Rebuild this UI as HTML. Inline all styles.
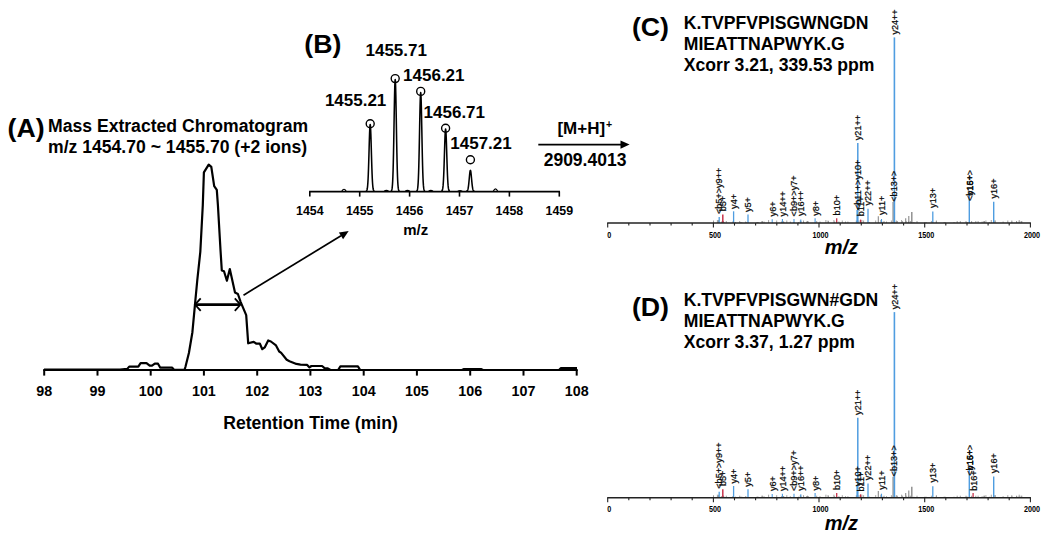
<!DOCTYPE html>
<html><head><meta charset="utf-8"><style>
html,body{margin:0;padding:0;background:#fff;width:1050px;height:546px;overflow:hidden}
svg{display:block}
text{font-family:"Liberation Sans",sans-serif;fill:#000}
</style></head><body>
<svg width="1050" height="546" viewBox="0 0 1050 546">
<rect width="1050" height="546" fill="#fff"/>
<text x="7.5" y="136.5" font-size="26.7" font-weight="bold" text-anchor="start" >(A)</text>
<text x="48" y="132" font-size="17.6" font-weight="bold" text-anchor="start" >Mass Extracted Chromatogram</text>
<text x="48" y="153" font-size="17.6" font-weight="bold" text-anchor="start" >m/z 1454.70 ~ 1455.70 (+2 ions)</text>
<line x1="43.2" y1="370" x2="577.7" y2="370" stroke="#000" stroke-width="2.2"/>
<line x1="44.2" y1="370" x2="44.2" y2="375.6" stroke="#000" stroke-width="2"/>
<text x="44.2" y="395.5" font-size="14.3" font-weight="bold" text-anchor="middle" >98</text>
<line x1="97.5" y1="370" x2="97.5" y2="375.6" stroke="#000" stroke-width="2"/>
<text x="97.5" y="395.5" font-size="14.3" font-weight="bold" text-anchor="middle" >99</text>
<line x1="150.7" y1="370" x2="150.7" y2="375.6" stroke="#000" stroke-width="2"/>
<text x="150.7" y="395.5" font-size="14.3" font-weight="bold" text-anchor="middle" >100</text>
<line x1="203.9" y1="370" x2="203.9" y2="375.6" stroke="#000" stroke-width="2"/>
<text x="203.9" y="395.5" font-size="14.3" font-weight="bold" text-anchor="middle" >101</text>
<line x1="257.2" y1="370" x2="257.2" y2="375.6" stroke="#000" stroke-width="2"/>
<text x="257.2" y="395.5" font-size="14.3" font-weight="bold" text-anchor="middle" >102</text>
<line x1="310.4" y1="370" x2="310.4" y2="375.6" stroke="#000" stroke-width="2"/>
<text x="310.4" y="395.5" font-size="14.3" font-weight="bold" text-anchor="middle" >103</text>
<line x1="363.7" y1="370" x2="363.7" y2="375.6" stroke="#000" stroke-width="2"/>
<text x="363.7" y="395.5" font-size="14.3" font-weight="bold" text-anchor="middle" >104</text>
<line x1="416.9" y1="370" x2="416.9" y2="375.6" stroke="#000" stroke-width="2"/>
<text x="416.9" y="395.5" font-size="14.3" font-weight="bold" text-anchor="middle" >105</text>
<line x1="470.2" y1="370" x2="470.2" y2="375.6" stroke="#000" stroke-width="2"/>
<text x="470.2" y="395.5" font-size="14.3" font-weight="bold" text-anchor="middle" >106</text>
<line x1="523.5" y1="370" x2="523.5" y2="375.6" stroke="#000" stroke-width="2"/>
<text x="523.5" y="395.5" font-size="14.3" font-weight="bold" text-anchor="middle" >107</text>
<line x1="576.7" y1="370" x2="576.7" y2="375.6" stroke="#000" stroke-width="2"/>
<text x="576.7" y="395.5" font-size="14.3" font-weight="bold" text-anchor="middle" >108</text>
<text x="310.5" y="428.8" font-size="17.6" font-weight="bold" text-anchor="middle" >Retention Time (min)</text>
<polyline fill="none" stroke="#000" stroke-width="2.2" stroke-linejoin="round" points="44,369.5 120,369.5 127.3,368.9 129.2,366.6 138.3,366.6 140.6,363.1 146.5,363.1 149.7,365.7 152,365.7 154.8,363.7 158,363.7 160.3,367.7 172.2,367.7 174,369.8 184.5,369.8 185.4,367 188.9,353 192.4,332.2 195,304.3 197.3,280 200.3,252 202.8,205 203.9,172.4 208.7,164.6 211.3,166.9 214.2,186.1 216.8,189.8 217.9,205 220.5,250 221.8,270.5 224,271.2 226.9,280.8 229.8,269 235,292.5 237.9,294 240.7,302.1 246.2,315.1 248.2,343.3 253.7,341.9 256.5,343.7 259.9,343.7 262.3,349.2 264.7,347.4 268.2,340.5 270.9,341.5 276,345.4 279.2,351.5 281.2,352.9 286.7,359.8 289.5,361.2 296.4,363.9 300.5,364.6 307.2,364.9 309.5,367.4 311.4,366 322.1,366 324.8,368.3 327.4,368.3 330.5,370 338.1,370 340.4,366.4 357.9,366.4 360.2,370 462,370 464,369 481,369 483,370 559,370 561,368 577,368"/>
<line x1="195.5" y1="304.6" x2="240" y2="304.6" stroke="#000" stroke-width="2.6"/>
<polyline fill="none" stroke="#000" stroke-width="1.8" points="200.7,298.3 195,304.6 200.7,310.9"/>
<polyline fill="none" stroke="#000" stroke-width="1.8" points="234.8,298.3 240.5,304.6 234.8,310.9"/>
<line x1="243.5" y1="295.2" x2="341.0" y2="235.8" stroke="#000" stroke-width="1.7"/>
<polygon fill="#000" points="348.7,231.1 343.1,239.2 338.9,232.4"/>
<text x="304.3" y="53.4" font-size="26.7" font-weight="bold" text-anchor="start" >(B)</text>
<line x1="309.1" y1="191.6" x2="560.0" y2="191.6" stroke="#000" stroke-width="1.6"/>
<line x1="309.8" y1="191.6" x2="309.8" y2="196.6" stroke="#000" stroke-width="1.6"/>
<text x="309.8" y="214.8" font-size="12.4" font-weight="bold" text-anchor="middle" >1454</text>
<line x1="359.7" y1="191.6" x2="359.7" y2="196.6" stroke="#000" stroke-width="1.6"/>
<text x="359.7" y="214.8" font-size="12.4" font-weight="bold" text-anchor="middle" >1455</text>
<line x1="409.6" y1="191.6" x2="409.6" y2="196.6" stroke="#000" stroke-width="1.6"/>
<text x="409.6" y="214.8" font-size="12.4" font-weight="bold" text-anchor="middle" >1456</text>
<line x1="459.5" y1="191.6" x2="459.5" y2="196.6" stroke="#000" stroke-width="1.6"/>
<text x="459.5" y="214.8" font-size="12.4" font-weight="bold" text-anchor="middle" >1457</text>
<line x1="509.4" y1="191.6" x2="509.4" y2="196.6" stroke="#000" stroke-width="1.6"/>
<text x="509.4" y="214.8" font-size="12.4" font-weight="bold" text-anchor="middle" >1458</text>
<line x1="559.3" y1="191.6" x2="559.3" y2="196.6" stroke="#000" stroke-width="1.6"/>
<text x="559.3" y="214.8" font-size="12.4" font-weight="bold" text-anchor="middle" >1459</text>
<text x="415.8" y="234.8" font-size="15" font-weight="bold" text-anchor="middle" >m/z</text>
<polyline fill="none" stroke="#000" stroke-width="1.55" stroke-linejoin="round" points="366.00,191.22 366.21,191.14 366.42,191.00 366.63,190.76 366.84,190.36 367.05,189.73 367.26,188.76 367.47,187.31 367.68,185.25 367.89,182.42 368.10,178.69 368.31,173.99 368.52,168.32 368.73,161.79 368.94,154.65 369.15,147.27 369.36,140.14 369.57,133.81 369.78,128.81 369.99,125.60 370.20,124.50 370.41,125.60 370.62,128.81 370.83,133.81 371.04,140.14 371.25,147.27 371.46,154.65 371.67,161.79 371.88,168.32 372.09,173.99 372.30,178.69 372.51,182.42 372.72,185.25 372.93,187.31 373.14,188.76 373.35,189.73 373.56,190.36 373.77,190.76 373.98,191.00 374.19,191.14 374.40,191.22"/>
<circle cx="370.2" cy="123.8" r="4" fill="none" stroke="#000" stroke-width="1.4"/>
<polyline fill="none" stroke="#000" stroke-width="1.55" stroke-linejoin="round" points="391.00,191.16 391.21,191.03 391.42,190.80 391.63,190.40 391.84,189.73 392.05,188.67 392.26,187.04 392.47,184.62 392.68,181.17 392.89,176.43 393.10,170.20 393.31,162.33 393.52,152.84 393.73,141.91 393.94,129.96 394.15,117.61 394.36,105.68 394.57,95.08 394.78,86.71 394.99,81.35 395.20,79.50 395.41,81.35 395.62,86.71 395.83,95.08 396.04,105.68 396.25,117.61 396.46,129.96 396.67,141.91 396.88,152.84 397.09,162.33 397.30,170.20 397.51,176.43 397.72,181.17 397.93,184.62 398.14,187.04 398.35,188.67 398.56,189.73 398.77,190.40 398.98,190.80 399.19,191.03 399.40,191.16"/>
<circle cx="395.2" cy="78.6" r="4" fill="none" stroke="#000" stroke-width="1.4"/>
<polyline fill="none" stroke="#000" stroke-width="1.55" stroke-linejoin="round" points="416.50,191.17 416.71,191.06 416.92,190.85 417.13,190.50 417.34,189.92 417.55,188.98 417.76,187.54 417.97,185.40 418.18,182.35 418.39,178.16 418.60,172.65 418.81,165.70 419.02,157.31 419.23,147.65 419.44,137.09 419.65,126.18 419.86,115.63 420.07,106.27 420.28,98.87 420.49,94.13 420.70,92.50 420.91,94.13 421.12,98.87 421.33,106.27 421.54,115.63 421.75,126.18 421.96,137.09 422.17,147.65 422.38,157.31 422.59,165.70 422.80,172.65 423.01,178.16 423.22,182.35 423.43,185.40 423.64,187.54 423.85,188.98 424.06,189.92 424.27,190.50 424.48,190.85 424.69,191.06 424.90,191.17"/>
<circle cx="420.7" cy="91.4" r="4" fill="none" stroke="#000" stroke-width="1.4"/>
<polyline fill="none" stroke="#000" stroke-width="1.55" stroke-linejoin="round" points="441.40,191.22 441.61,191.15 441.82,191.02 442.03,190.80 442.24,190.43 442.45,189.84 442.66,188.93 442.87,187.58 443.08,185.65 443.29,183.01 443.50,179.54 443.71,175.16 443.92,169.87 444.13,163.78 444.34,157.12 444.55,150.24 444.76,143.59 444.97,137.68 445.18,133.02 445.39,130.03 445.60,129.00 445.81,130.03 446.02,133.02 446.23,137.68 446.44,143.59 446.65,150.24 446.86,157.12 447.07,163.78 447.28,169.87 447.49,175.16 447.70,179.54 447.91,183.01 448.12,185.65 448.33,187.58 448.54,188.93 448.75,189.84 448.96,190.43 449.17,190.80 449.38,191.02 449.59,191.15 449.80,191.22"/>
<circle cx="445.6" cy="128.2" r="4" fill="none" stroke="#000" stroke-width="1.4"/>
<polyline fill="none" stroke="#000" stroke-width="1.55" stroke-linejoin="round" points="466.20,191.27 466.41,191.25 466.62,191.21 466.83,191.13 467.04,191.01 467.25,190.81 467.46,190.50 467.67,190.05 467.88,189.40 468.09,188.51 468.30,187.34 468.51,185.86 468.72,184.08 468.93,182.02 469.14,179.78 469.35,177.46 469.56,175.22 469.77,173.23 469.98,171.65 470.19,170.65 470.40,170.30 470.61,170.65 470.82,171.65 471.03,173.23 471.24,175.22 471.45,177.46 471.66,179.78 471.87,182.02 472.08,184.08 472.29,185.86 472.50,187.34 472.71,188.51 472.92,189.40 473.13,190.05 473.34,190.50 473.55,190.81 473.76,191.01 473.97,191.13 474.18,191.21 474.39,191.25 474.60,191.27"/>
<circle cx="470.4" cy="159.7" r="4" fill="none" stroke="#000" stroke-width="1.4"/>
<path d="M341.8,191.29999999999998 Q344,187.2 346.2,191.29999999999998" fill="none" stroke="#000" stroke-width="1.2"/>
<path d="M493.3,191.29999999999998 Q495.5,186.4 497.7,191.29999999999998" fill="none" stroke="#000" stroke-width="1.2"/>
<path d="M384.2,191.29999999999998 Q386.4,189.6 388.59999999999997,191.29999999999998" fill="none" stroke="#000" stroke-width="1.2"/>
<path d="M405.3,191.29999999999998 Q407.5,189.6 409.7,191.29999999999998" fill="none" stroke="#000" stroke-width="1.2"/>
<path d="M428.6,191.29999999999998 Q430.8,189.6 433.0,191.29999999999998" fill="none" stroke="#000" stroke-width="1.2"/>
<path d="M457.8,191.29999999999998 Q460,190.0 462.2,191.29999999999998" fill="none" stroke="#000" stroke-width="1.2"/>
<text x="324.88" y="105.6" font-size="17" font-weight="bold" text-anchor="start" >1455.21</text>
<text x="365.48" y="56.3" font-size="17" font-weight="bold" text-anchor="start" >1455.71</text>
<text x="403.08000000000004" y="81" font-size="17" font-weight="bold" text-anchor="start" >1456.21</text>
<text x="423.58000000000004" y="117.7" font-size="17" font-weight="bold" text-anchor="start" >1456.71</text>
<text x="450.28000000000003" y="149" font-size="17" font-weight="bold" text-anchor="start" >1457.21</text>
<text x="557.38" y="133.8" font-size="17" font-weight="bold" text-anchor="start" >[M+H]<tspan font-size="10.5" dy="-5.6" dx="1">+</tspan></text>
<line x1="538.3" y1="144.6" x2="622" y2="144.6" stroke="#000" stroke-width="1.6"/>
<polygon fill="#000" points="629.6,144.6 620.5,140.4 620.5,148.8"/>
<text x="543.6750000000001" y="165.5" font-size="17.5" font-weight="bold" text-anchor="start" >2909.4013</text>
<text x="631.9649999999999" y="36.4" font-size="26.7" font-weight="bold" text-anchor="start" >(C)</text>
<text x="683.768" y="28.7" font-size="17.6" font-weight="bold" text-anchor="start" >K.TVPFVPISGWNGDN</text>
<text x="683.768" y="49.7" font-size="17.6" font-weight="bold" text-anchor="start" >MIEATTNAPWYK.G</text>
<text x="683.768" y="70.7" font-size="17.6" font-weight="bold" text-anchor="start" >Xcorr 3.21, 339.53 ppm</text>
<line x1="783.5" y1="221.5" x2="783.5" y2="223" stroke="#8a8a8a" stroke-width="0.8"/>
<line x1="825.9" y1="220" x2="825.9" y2="223" stroke="#8a8a8a" stroke-width="0.8"/>
<line x1="908.0" y1="222" x2="908.0" y2="223" stroke="#8a8a8a" stroke-width="0.8"/>
<line x1="901.6" y1="220" x2="901.6" y2="223" stroke="#8a8a8a" stroke-width="0.8"/>
<line x1="790.3" y1="221.5" x2="790.3" y2="223" stroke="#8a8a8a" stroke-width="0.8"/>
<line x1="768.6" y1="220" x2="768.6" y2="223" stroke="#8a8a8a" stroke-width="0.8"/>
<line x1="880.8" y1="220" x2="880.8" y2="223" stroke="#8a8a8a" stroke-width="0.8"/>
<line x1="834.6" y1="221.5" x2="834.6" y2="223" stroke="#8a8a8a" stroke-width="0.8"/>
<line x1="781.5" y1="221.5" x2="781.5" y2="223" stroke="#8a8a8a" stroke-width="0.8"/>
<line x1="985.9" y1="220.5" x2="985.9" y2="223" stroke="#8a8a8a" stroke-width="0.8"/>
<line x1="945.1" y1="222" x2="945.1" y2="223" stroke="#8a8a8a" stroke-width="0.8"/>
<line x1="758.2" y1="222" x2="758.2" y2="223" stroke="#8a8a8a" stroke-width="0.8"/>
<line x1="803.8" y1="222" x2="803.8" y2="223" stroke="#8a8a8a" stroke-width="0.8"/>
<line x1="971.6" y1="221" x2="971.6" y2="223" stroke="#8a8a8a" stroke-width="0.8"/>
<line x1="858.9" y1="220.5" x2="858.9" y2="223" stroke="#8a8a8a" stroke-width="0.8"/>
<line x1="936.4" y1="220.5" x2="936.4" y2="223" stroke="#8a8a8a" stroke-width="0.8"/>
<line x1="833.9" y1="220" x2="833.9" y2="223" stroke="#8a8a8a" stroke-width="0.8"/>
<line x1="1016.7" y1="221.5" x2="1016.7" y2="223" stroke="#8a8a8a" stroke-width="0.8"/>
<line x1="989.3" y1="222" x2="989.3" y2="223" stroke="#8a8a8a" stroke-width="0.8"/>
<line x1="718.6" y1="220" x2="718.6" y2="223" stroke="#8a8a8a" stroke-width="0.8"/>
<line x1="776.7" y1="220.5" x2="776.7" y2="223" stroke="#8a8a8a" stroke-width="0.8"/>
<line x1="957.2" y1="221" x2="957.2" y2="223" stroke="#8a8a8a" stroke-width="0.8"/>
<line x1="842.3" y1="220.5" x2="842.3" y2="223" stroke="#8a8a8a" stroke-width="0.8"/>
<line x1="891.4" y1="220.5" x2="891.4" y2="223" stroke="#8a8a8a" stroke-width="0.8"/>
<line x1="894.7" y1="221" x2="894.7" y2="223" stroke="#8a8a8a" stroke-width="0.8"/>
<line x1="926.1" y1="222" x2="926.1" y2="223" stroke="#8a8a8a" stroke-width="0.8"/>
<line x1="982.1" y1="221.5" x2="982.1" y2="223" stroke="#8a8a8a" stroke-width="0.8"/>
<line x1="931.4" y1="221" x2="931.4" y2="223" stroke="#8a8a8a" stroke-width="0.8"/>
<line x1="1016.9" y1="222" x2="1016.9" y2="223" stroke="#8a8a8a" stroke-width="0.8"/>
<line x1="936.3" y1="221.5" x2="936.3" y2="223" stroke="#8a8a8a" stroke-width="0.8"/>
<line x1="910.4" y1="221" x2="910.4" y2="223" stroke="#8a8a8a" stroke-width="0.8"/>
<line x1="798.6" y1="222" x2="798.6" y2="223" stroke="#8a8a8a" stroke-width="0.8"/>
<line x1="861.9" y1="220" x2="861.9" y2="223" stroke="#8a8a8a" stroke-width="0.8"/>
<line x1="735.5" y1="222" x2="735.5" y2="223" stroke="#8a8a8a" stroke-width="0.8"/>
<line x1="838.9" y1="221.5" x2="838.9" y2="223" stroke="#8a8a8a" stroke-width="0.8"/>
<line x1="713.5" y1="220.5" x2="713.5" y2="223" stroke="#8a8a8a" stroke-width="0.8"/>
<line x1="954.0" y1="222" x2="954.0" y2="223" stroke="#8a8a8a" stroke-width="0.8"/>
<line x1="721.2" y1="222" x2="721.2" y2="223" stroke="#8a8a8a" stroke-width="0.8"/>
<line x1="828.4" y1="221" x2="828.4" y2="223" stroke="#8a8a8a" stroke-width="0.8"/>
<line x1="884.0" y1="221" x2="884.0" y2="223" stroke="#8a8a8a" stroke-width="0.8"/>
<line x1="869.4" y1="222" x2="869.4" y2="223" stroke="#8a8a8a" stroke-width="0.8"/>
<line x1="806.5" y1="222" x2="806.5" y2="223" stroke="#8a8a8a" stroke-width="0.8"/>
<line x1="741.8" y1="222" x2="741.8" y2="223" stroke="#8a8a8a" stroke-width="0.8"/>
<line x1="1011.8" y1="220.5" x2="1011.8" y2="223" stroke="#8a8a8a" stroke-width="0.8"/>
<line x1="800.7" y1="221" x2="800.7" y2="223" stroke="#8a8a8a" stroke-width="0.8"/>
<line x1="757.2" y1="222" x2="757.2" y2="223" stroke="#8a8a8a" stroke-width="0.8"/>
<line x1="1021.8" y1="221" x2="1021.8" y2="223" stroke="#8a8a8a" stroke-width="0.8"/>
<line x1="807.8" y1="221.5" x2="807.8" y2="223" stroke="#8a8a8a" stroke-width="0.8"/>
<line x1="995.1" y1="220.5" x2="995.1" y2="223" stroke="#8a8a8a" stroke-width="0.8"/>
<line x1="828.0" y1="220.5" x2="828.0" y2="223" stroke="#8a8a8a" stroke-width="0.8"/>
<line x1="913.9" y1="222" x2="913.9" y2="223" stroke="#8a8a8a" stroke-width="0.8"/>
<line x1="906.2" y1="221" x2="906.2" y2="223" stroke="#8a8a8a" stroke-width="0.8"/>
<line x1="845.5" y1="221.5" x2="845.5" y2="223" stroke="#8a8a8a" stroke-width="0.8"/>
<line x1="1007.8" y1="220.5" x2="1007.8" y2="223" stroke="#8a8a8a" stroke-width="0.8"/>
<line x1="1021.1" y1="221" x2="1021.1" y2="223" stroke="#8a8a8a" stroke-width="0.8"/>
<line x1="883.2" y1="222" x2="883.2" y2="223" stroke="#8a8a8a" stroke-width="0.8"/>
<line x1="960.3" y1="221" x2="960.3" y2="223" stroke="#8a8a8a" stroke-width="0.8"/>
<line x1="713.5" y1="221.5" x2="713.5" y2="223" stroke="#8a8a8a" stroke-width="0.8"/>
<line x1="726.3" y1="221" x2="726.3" y2="223" stroke="#8a8a8a" stroke-width="0.8"/>
<line x1="856.8" y1="221" x2="856.8" y2="223" stroke="#8a8a8a" stroke-width="0.8"/>
<line x1="902.6" y1="221" x2="902.6" y2="223" stroke="#8a8a8a" stroke-width="0.8"/>
<line x1="944.1" y1="222" x2="944.1" y2="223" stroke="#8a8a8a" stroke-width="0.8"/>
<line x1="896.3" y1="222" x2="896.3" y2="223" stroke="#8a8a8a" stroke-width="0.8"/>
<line x1="1016.5" y1="221" x2="1016.5" y2="223" stroke="#8a8a8a" stroke-width="0.8"/>
<line x1="908.7" y1="221" x2="908.7" y2="223" stroke="#8a8a8a" stroke-width="0.8"/>
<line x1="897.4" y1="221" x2="897.4" y2="223" stroke="#8a8a8a" stroke-width="0.8"/>
<line x1="764.0" y1="221.5" x2="764.0" y2="223" stroke="#8a8a8a" stroke-width="0.8"/>
<line x1="807.5" y1="221" x2="807.5" y2="223" stroke="#8a8a8a" stroke-width="0.8"/>
<line x1="978.1" y1="221" x2="978.1" y2="223" stroke="#8a8a8a" stroke-width="0.8"/>
<line x1="803.5" y1="220.5" x2="803.5" y2="223" stroke="#8a8a8a" stroke-width="0.8"/>
<line x1="740.7" y1="222" x2="740.7" y2="223" stroke="#8a8a8a" stroke-width="0.8"/>
<line x1="1019.1" y1="221.5" x2="1019.1" y2="223" stroke="#8a8a8a" stroke-width="0.8"/>
<line x1="806.6" y1="221.5" x2="806.6" y2="223" stroke="#8a8a8a" stroke-width="0.8"/>
<line x1="917.0" y1="221" x2="917.0" y2="223" stroke="#8a8a8a" stroke-width="0.8"/>
<line x1="783.7" y1="221.5" x2="783.7" y2="223" stroke="#8a8a8a" stroke-width="0.8"/>
<line x1="924.8" y1="222" x2="924.8" y2="223" stroke="#8a8a8a" stroke-width="0.8"/>
<line x1="739.7" y1="221" x2="739.7" y2="223" stroke="#8a8a8a" stroke-width="0.8"/>
<line x1="1011.9" y1="221.5" x2="1011.9" y2="223" stroke="#8a8a8a" stroke-width="0.8"/>
<line x1="847.9" y1="221.5" x2="847.9" y2="223" stroke="#8a8a8a" stroke-width="0.8"/>
<line x1="732.7" y1="221.5" x2="732.7" y2="223" stroke="#8a8a8a" stroke-width="0.8"/>
<line x1="991.3" y1="220" x2="991.3" y2="223" stroke="#8a8a8a" stroke-width="0.8"/>
<line x1="793.9" y1="222" x2="793.9" y2="223" stroke="#8a8a8a" stroke-width="0.8"/>
<line x1="717.9" y1="221.5" x2="717.9" y2="223" stroke="#8a8a8a" stroke-width="0.8"/>
<line x1="808.3" y1="221.5" x2="808.3" y2="223" stroke="#8a8a8a" stroke-width="0.8"/>
<line x1="984.5" y1="221" x2="984.5" y2="223" stroke="#8a8a8a" stroke-width="0.8"/>
<line x1="966.3" y1="222" x2="966.3" y2="223" stroke="#8a8a8a" stroke-width="0.8"/>
<line x1="966.0" y1="221" x2="966.0" y2="223" stroke="#8a8a8a" stroke-width="0.8"/>
<line x1="896.4" y1="220.5" x2="896.4" y2="223" stroke="#8a8a8a" stroke-width="0.8"/>
<line x1="800.8" y1="221" x2="800.8" y2="223" stroke="#8a8a8a" stroke-width="0.8"/>
<line x1="856.3" y1="220.5" x2="856.3" y2="223" stroke="#8a8a8a" stroke-width="0.8"/>
<line x1="800.3" y1="220.5" x2="800.3" y2="223" stroke="#8a8a8a" stroke-width="0.8"/>
<line x1="718.4" y1="220.5" x2="718.4" y2="223" stroke="#8a8a8a" stroke-width="0.8"/>
<line x1="757.1" y1="222" x2="757.1" y2="223" stroke="#8a8a8a" stroke-width="0.8"/>
<line x1="860.4" y1="220.5" x2="860.4" y2="223" stroke="#8a8a8a" stroke-width="0.8"/>
<line x1="886.5" y1="221.5" x2="886.5" y2="223" stroke="#8a8a8a" stroke-width="0.8"/>
<line x1="717.4" y1="220" x2="717.4" y2="223" stroke="#8a8a8a" stroke-width="0.8"/>
<line x1="975.8" y1="221" x2="975.8" y2="223" stroke="#8a8a8a" stroke-width="0.8"/>
<line x1="881.7" y1="221.5" x2="881.7" y2="223" stroke="#8a8a8a" stroke-width="0.8"/>
<line x1="983.8" y1="221" x2="983.8" y2="223" stroke="#8a8a8a" stroke-width="0.8"/>
<line x1="745.6" y1="221.5" x2="745.6" y2="223" stroke="#8a8a8a" stroke-width="0.8"/>
<line x1="721.5" y1="221.5" x2="721.5" y2="223" stroke="#8a8a8a" stroke-width="0.8"/>
<line x1="995.0" y1="220.5" x2="995.0" y2="223" stroke="#8a8a8a" stroke-width="0.8"/>
<line x1="892.4" y1="222" x2="892.4" y2="223" stroke="#8a8a8a" stroke-width="0.8"/>
<line x1="861.5" y1="222" x2="861.5" y2="223" stroke="#8a8a8a" stroke-width="0.8"/>
<line x1="762.2" y1="221" x2="762.2" y2="223" stroke="#8a8a8a" stroke-width="0.8"/>
<line x1="783.8" y1="222" x2="783.8" y2="223" stroke="#8a8a8a" stroke-width="0.8"/>
<line x1="875.7" y1="220.5" x2="875.7" y2="223" stroke="#8a8a8a" stroke-width="0.8"/>
<line x1="724.1" y1="222" x2="724.1" y2="223" stroke="#8a8a8a" stroke-width="0.8"/>
<line x1="816.7" y1="221" x2="816.7" y2="223" stroke="#8a8a8a" stroke-width="0.8"/>
<line x1="1019.2" y1="220" x2="1019.2" y2="223" stroke="#8a8a8a" stroke-width="0.8"/>
<line x1="967.7" y1="222" x2="967.7" y2="223" stroke="#8a8a8a" stroke-width="0.8"/>
<line x1="820.0" y1="221.5" x2="820.0" y2="223" stroke="#8a8a8a" stroke-width="0.8"/>
<line x1="746.3" y1="222" x2="746.3" y2="223" stroke="#8a8a8a" stroke-width="0.8"/>
<line x1="762.1" y1="221" x2="762.1" y2="223" stroke="#8a8a8a" stroke-width="0.8"/>
<line x1="1003.1" y1="221.5" x2="1003.1" y2="223" stroke="#8a8a8a" stroke-width="0.8"/>
<line x1="971.6" y1="222" x2="971.6" y2="223" stroke="#8a8a8a" stroke-width="0.8"/>
<line x1="863.6" y1="220.5" x2="863.6" y2="223" stroke="#8a8a8a" stroke-width="0.8"/>
<line x1="723.1" y1="221" x2="723.1" y2="223" stroke="#8a8a8a" stroke-width="0.8"/>
<line x1="786.8" y1="220.5" x2="786.8" y2="223" stroke="#8a8a8a" stroke-width="0.8"/>
<line x1="723.4" y1="221" x2="723.4" y2="223" stroke="#8a8a8a" stroke-width="0.8"/>
<line x1="719.2" y1="217" x2="719.2" y2="223" stroke="#4f9de0" stroke-width="1.3"/>
<line x1="722.8" y1="214.5" x2="722.8" y2="223" stroke="#c8344c" stroke-width="1.5"/>
<line x1="733.6" y1="211.3" x2="733.6" y2="223" stroke="#4f9de0" stroke-width="1.3"/>
<line x1="748" y1="214.5" x2="748" y2="223" stroke="#4f9de0" stroke-width="1.3"/>
<line x1="772.2" y1="219.2" x2="772.2" y2="223" stroke="#4f9de0" stroke-width="1.1"/>
<line x1="782.4" y1="219" x2="782.4" y2="223" stroke="#4f9de0" stroke-width="1.1"/>
<line x1="794" y1="219" x2="794" y2="223" stroke="#4f9de0" stroke-width="1.1"/>
<line x1="800.8" y1="219.5" x2="800.8" y2="223" stroke="#4f9de0" stroke-width="1.1"/>
<line x1="815.1" y1="218.3" x2="815.1" y2="223" stroke="#4f9de0" stroke-width="1.1"/>
<line x1="836.7" y1="218.3" x2="836.7" y2="223" stroke="#c8344c" stroke-width="1.3"/>
<line x1="857.8" y1="143" x2="857.8" y2="223" stroke="#4f9de0" stroke-width="1.5"/>
<line x1="857.2" y1="210" x2="857.2" y2="223" stroke="#4f9de0" stroke-width="1.6"/>
<line x1="860.6" y1="219.6" x2="860.6" y2="223" stroke="#c8344c" stroke-width="1.3"/>
<line x1="868" y1="208.7" x2="868" y2="223" stroke="#4f9de0" stroke-width="1.3"/>
<line x1="878.3" y1="216.3" x2="878.3" y2="223" stroke="#8a8a8a" stroke-width="1.1"/>
<line x1="881.5" y1="219" x2="881.5" y2="223" stroke="#4f9de0" stroke-width="1.1"/>
<line x1="893.1" y1="202" x2="893.1" y2="223" stroke="#8a8a8a" stroke-width="1.3"/>
<line x1="894.4" y1="37.4" x2="894.4" y2="223" stroke="#4f9de0" stroke-width="1.6"/>
<line x1="905.7" y1="218.2" x2="905.7" y2="223" stroke="#8a8a8a" stroke-width="1.1"/>
<line x1="908.8" y1="215.9" x2="908.8" y2="223" stroke="#8a8a8a" stroke-width="1.1"/>
<line x1="911.8" y1="212.1" x2="911.8" y2="223" stroke="#8a8a8a" stroke-width="1.4"/>
<line x1="932.8" y1="211.5" x2="932.8" y2="223" stroke="#4f9de0" stroke-width="1.3"/>
<line x1="969.3" y1="192" x2="969.3" y2="223" stroke="#4f9de0" stroke-width="1.4"/>
<line x1="993.7" y1="201.7" x2="993.7" y2="223" stroke="#4f9de0" stroke-width="1.4"/>
<line x1="607.2" y1="223" x2="1030.9" y2="223" stroke="#222" stroke-width="1.4"/>
<line x1="607.7" y1="223" x2="607.7" y2="227.6" stroke="#222" stroke-width="1.1"/>
<text font-family="Liberation Mono" font-size="8.8" font-weight="bold" fill="#555" text-anchor="middle" transform="translate(609.3 237.6) scale(0.82,1)">0</text>
<line x1="628.8" y1="223" x2="628.8" y2="225.6" stroke="#222" stroke-width="1.1"/>
<line x1="650.0" y1="223" x2="650.0" y2="225.6" stroke="#222" stroke-width="1.1"/>
<line x1="671.1" y1="223" x2="671.1" y2="225.6" stroke="#222" stroke-width="1.1"/>
<line x1="692.2" y1="223" x2="692.2" y2="225.6" stroke="#222" stroke-width="1.1"/>
<line x1="713.4" y1="223" x2="713.4" y2="227.6" stroke="#222" stroke-width="1.1"/>
<text font-family="Liberation Mono" font-size="8.8" font-weight="bold" fill="#555" text-anchor="middle" transform="translate(715.0 237.6) scale(0.82,1)">500</text>
<line x1="734.5" y1="223" x2="734.5" y2="225.6" stroke="#222" stroke-width="1.1"/>
<line x1="755.6" y1="223" x2="755.6" y2="225.6" stroke="#222" stroke-width="1.1"/>
<line x1="776.8" y1="223" x2="776.8" y2="225.6" stroke="#222" stroke-width="1.1"/>
<line x1="797.9" y1="223" x2="797.9" y2="225.6" stroke="#222" stroke-width="1.1"/>
<line x1="819.0" y1="223" x2="819.0" y2="227.6" stroke="#222" stroke-width="1.1"/>
<text font-family="Liberation Mono" font-size="8.8" font-weight="bold" fill="#555" text-anchor="middle" transform="translate(820.6 237.6) scale(0.82,1)">1000</text>
<line x1="840.2" y1="223" x2="840.2" y2="225.6" stroke="#222" stroke-width="1.1"/>
<line x1="861.3" y1="223" x2="861.3" y2="225.6" stroke="#222" stroke-width="1.1"/>
<line x1="882.4" y1="223" x2="882.4" y2="225.6" stroke="#222" stroke-width="1.1"/>
<line x1="903.6" y1="223" x2="903.6" y2="225.6" stroke="#222" stroke-width="1.1"/>
<line x1="924.7" y1="223" x2="924.7" y2="227.6" stroke="#222" stroke-width="1.1"/>
<text font-family="Liberation Mono" font-size="8.8" font-weight="bold" fill="#555" text-anchor="middle" transform="translate(926.3 237.6) scale(0.82,1)">1500</text>
<line x1="945.8" y1="223" x2="945.8" y2="225.6" stroke="#222" stroke-width="1.1"/>
<line x1="967.0" y1="223" x2="967.0" y2="225.6" stroke="#222" stroke-width="1.1"/>
<line x1="988.1" y1="223" x2="988.1" y2="225.6" stroke="#222" stroke-width="1.1"/>
<line x1="1009.2" y1="223" x2="1009.2" y2="225.6" stroke="#222" stroke-width="1.1"/>
<line x1="1030.4" y1="223" x2="1030.4" y2="227.6" stroke="#222" stroke-width="1.1"/>
<text font-family="Liberation Mono" font-size="8.8" font-weight="bold" fill="#555" text-anchor="middle" transform="translate(1032.0 237.6) scale(0.82,1)">2000</text>
<text x="841.3" y="254.3" font-size="20" font-weight="bold" font-style="italic" text-anchor="middle">m/z</text>
<text font-size="9.2" font-weight="normal" fill="#1a1a1a" stroke="#1a1a1a" stroke-width="0.25" transform="translate(722.4 214.0) rotate(-90) scale(0.99,1.06)">&lt;b5+&gt;y9++</text>
<text font-size="9.2" font-weight="normal" fill="#1a1a1a" stroke="#1a1a1a" stroke-width="0.25" transform="translate(726.2 211.3) rotate(-90) scale(0.99,1.06)">b5+</text>
<text font-size="9.2" font-weight="normal" fill="#1a1a1a" stroke="#1a1a1a" stroke-width="0.25" transform="translate(737.0 208.9) rotate(-90) scale(0.99,1.06)">y4+</text>
<text font-size="9.2" font-weight="normal" fill="#1a1a1a" stroke="#1a1a1a" stroke-width="0.25" transform="translate(751.4 212.0) rotate(-90) scale(0.99,1.06)">y5+</text>
<text font-size="9.2" font-weight="normal" fill="#1a1a1a" stroke="#1a1a1a" stroke-width="0.25" transform="translate(775.6 216.4) rotate(-90) scale(0.99,1.06)">y6+</text>
<text font-size="9.2" font-weight="normal" fill="#1a1a1a" stroke="#1a1a1a" stroke-width="0.25" transform="translate(785.8 216.4) rotate(-90) scale(0.99,1.06)">y14++</text>
<text font-size="9.2" font-weight="normal" fill="#1a1a1a" stroke="#1a1a1a" stroke-width="0.25" transform="translate(797.4 216.4) rotate(-90) scale(0.99,1.06)">&lt;b9+&gt;y7+</text>
<text font-size="9.2" font-weight="normal" fill="#1a1a1a" stroke="#1a1a1a" stroke-width="0.25" transform="translate(804.2 216.0) rotate(-90) scale(0.99,1.06)">y16++</text>
<text font-size="9.2" font-weight="normal" fill="#1a1a1a" stroke="#1a1a1a" stroke-width="0.25" transform="translate(818.5 215.8) rotate(-90) scale(0.99,1.06)">y8+</text>
<text font-size="9.2" font-weight="normal" fill="#1a1a1a" stroke="#1a1a1a" stroke-width="0.25" transform="translate(840.1 215.4) rotate(-90) scale(0.99,1.06)">b10+</text>
<text font-size="9.2" font-weight="normal" fill="#1a1a1a" stroke="#1a1a1a" stroke-width="0.25" transform="translate(861.4 210.0) rotate(-90) scale(0.99,1.06)">&lt;b11+&gt;y10+</text>
<text font-size="9.2" font-weight="normal" fill="#1a1a1a" stroke="#1a1a1a" stroke-width="0.25" transform="translate(864.2 216.3) rotate(-90) scale(0.99,1.06)">b11+</text>
<text font-size="9.2" font-weight="normal" fill="#1a1a1a" stroke="#1a1a1a" stroke-width="0.25" transform="translate(861.2 140.2) rotate(-90) scale(0.99,1.06)">y21++</text>
<text font-size="9.2" font-weight="normal" fill="#1a1a1a" stroke="#1a1a1a" stroke-width="0.25" transform="translate(871.4 205.5) rotate(-90) scale(0.99,1.06)">y22++</text>
<text font-size="9.2" font-weight="normal" fill="#1a1a1a" stroke="#1a1a1a" stroke-width="0.25" transform="translate(884.9 215.0) rotate(-90) scale(0.99,1.06)">y11+</text>
<text font-size="9.2" font-weight="normal" fill="#1a1a1a" stroke="#1a1a1a" stroke-width="0.25" transform="translate(897.0 201.7) rotate(-90) scale(0.99,1.06)">&lt;b13+&gt;</text>
<text font-size="9.2" font-weight="normal" fill="#1a1a1a" stroke="#1a1a1a" stroke-width="0.25" transform="translate(897.8 34.6) rotate(-90) scale(0.99,1.06)">y24++</text>
<text font-size="9.2" font-weight="normal" fill="#1a1a1a" stroke="#1a1a1a" stroke-width="0.25" transform="translate(936.2 207.9) rotate(-90) scale(0.99,1.06)">y13+</text>
<text font-size="9.2" font-weight="normal" fill="#1a1a1a" stroke="#1a1a1a" stroke-width="0.25" transform="translate(972.7 201.0) rotate(-90) scale(0.99,1.06)">&lt;b16+&gt;</text>
<text font-size="9.2" font-weight="normal" fill="#1a1a1a" stroke="#1a1a1a" stroke-width="0.25" transform="translate(973.0 195.0) rotate(-90) scale(0.99,1.06)">y15+</text>
<text font-size="9.2" font-weight="normal" fill="#1a1a1a" stroke="#1a1a1a" stroke-width="0.25" transform="translate(997.1 198.5) rotate(-90) scale(0.99,1.06)">y16+</text>
<text x="631.9649999999999" y="316.0" font-size="26.7" font-weight="bold" text-anchor="start" >(D)</text>
<text x="683.768" y="306.3" font-size="17.6" font-weight="bold" text-anchor="start" >K.TVPFVPISGWN#GDN</text>
<text x="683.768" y="327.3" font-size="17.6" font-weight="bold" text-anchor="start" >MIEATTNAPWYK.G</text>
<text x="683.768" y="348.3" font-size="17.6" font-weight="bold" text-anchor="start" >Xcorr 3.37, 1.27 ppm</text>
<line x1="783.5" y1="496.2" x2="783.5" y2="497.7" stroke="#8a8a8a" stroke-width="0.8"/>
<line x1="825.9" y1="494.7" x2="825.9" y2="497.7" stroke="#8a8a8a" stroke-width="0.8"/>
<line x1="908.0" y1="496.7" x2="908.0" y2="497.7" stroke="#8a8a8a" stroke-width="0.8"/>
<line x1="901.6" y1="494.7" x2="901.6" y2="497.7" stroke="#8a8a8a" stroke-width="0.8"/>
<line x1="790.3" y1="496.2" x2="790.3" y2="497.7" stroke="#8a8a8a" stroke-width="0.8"/>
<line x1="768.6" y1="494.7" x2="768.6" y2="497.7" stroke="#8a8a8a" stroke-width="0.8"/>
<line x1="880.8" y1="494.7" x2="880.8" y2="497.7" stroke="#8a8a8a" stroke-width="0.8"/>
<line x1="834.6" y1="496.2" x2="834.6" y2="497.7" stroke="#8a8a8a" stroke-width="0.8"/>
<line x1="781.5" y1="496.2" x2="781.5" y2="497.7" stroke="#8a8a8a" stroke-width="0.8"/>
<line x1="985.9" y1="495.2" x2="985.9" y2="497.7" stroke="#8a8a8a" stroke-width="0.8"/>
<line x1="945.1" y1="496.7" x2="945.1" y2="497.7" stroke="#8a8a8a" stroke-width="0.8"/>
<line x1="758.2" y1="496.7" x2="758.2" y2="497.7" stroke="#8a8a8a" stroke-width="0.8"/>
<line x1="803.8" y1="496.7" x2="803.8" y2="497.7" stroke="#8a8a8a" stroke-width="0.8"/>
<line x1="971.6" y1="495.7" x2="971.6" y2="497.7" stroke="#8a8a8a" stroke-width="0.8"/>
<line x1="858.9" y1="495.2" x2="858.9" y2="497.7" stroke="#8a8a8a" stroke-width="0.8"/>
<line x1="936.4" y1="495.2" x2="936.4" y2="497.7" stroke="#8a8a8a" stroke-width="0.8"/>
<line x1="833.9" y1="494.7" x2="833.9" y2="497.7" stroke="#8a8a8a" stroke-width="0.8"/>
<line x1="1016.7" y1="496.2" x2="1016.7" y2="497.7" stroke="#8a8a8a" stroke-width="0.8"/>
<line x1="989.3" y1="496.7" x2="989.3" y2="497.7" stroke="#8a8a8a" stroke-width="0.8"/>
<line x1="718.6" y1="494.7" x2="718.6" y2="497.7" stroke="#8a8a8a" stroke-width="0.8"/>
<line x1="776.7" y1="495.2" x2="776.7" y2="497.7" stroke="#8a8a8a" stroke-width="0.8"/>
<line x1="957.2" y1="495.7" x2="957.2" y2="497.7" stroke="#8a8a8a" stroke-width="0.8"/>
<line x1="842.3" y1="495.2" x2="842.3" y2="497.7" stroke="#8a8a8a" stroke-width="0.8"/>
<line x1="891.4" y1="495.2" x2="891.4" y2="497.7" stroke="#8a8a8a" stroke-width="0.8"/>
<line x1="894.7" y1="495.7" x2="894.7" y2="497.7" stroke="#8a8a8a" stroke-width="0.8"/>
<line x1="926.1" y1="496.7" x2="926.1" y2="497.7" stroke="#8a8a8a" stroke-width="0.8"/>
<line x1="982.1" y1="496.2" x2="982.1" y2="497.7" stroke="#8a8a8a" stroke-width="0.8"/>
<line x1="931.4" y1="495.7" x2="931.4" y2="497.7" stroke="#8a8a8a" stroke-width="0.8"/>
<line x1="1016.9" y1="496.7" x2="1016.9" y2="497.7" stroke="#8a8a8a" stroke-width="0.8"/>
<line x1="936.3" y1="496.2" x2="936.3" y2="497.7" stroke="#8a8a8a" stroke-width="0.8"/>
<line x1="910.4" y1="495.7" x2="910.4" y2="497.7" stroke="#8a8a8a" stroke-width="0.8"/>
<line x1="798.6" y1="496.7" x2="798.6" y2="497.7" stroke="#8a8a8a" stroke-width="0.8"/>
<line x1="861.9" y1="494.7" x2="861.9" y2="497.7" stroke="#8a8a8a" stroke-width="0.8"/>
<line x1="735.5" y1="496.7" x2="735.5" y2="497.7" stroke="#8a8a8a" stroke-width="0.8"/>
<line x1="838.9" y1="496.2" x2="838.9" y2="497.7" stroke="#8a8a8a" stroke-width="0.8"/>
<line x1="713.5" y1="495.2" x2="713.5" y2="497.7" stroke="#8a8a8a" stroke-width="0.8"/>
<line x1="954.0" y1="496.7" x2="954.0" y2="497.7" stroke="#8a8a8a" stroke-width="0.8"/>
<line x1="721.2" y1="496.7" x2="721.2" y2="497.7" stroke="#8a8a8a" stroke-width="0.8"/>
<line x1="828.4" y1="495.7" x2="828.4" y2="497.7" stroke="#8a8a8a" stroke-width="0.8"/>
<line x1="884.0" y1="495.7" x2="884.0" y2="497.7" stroke="#8a8a8a" stroke-width="0.8"/>
<line x1="869.4" y1="496.7" x2="869.4" y2="497.7" stroke="#8a8a8a" stroke-width="0.8"/>
<line x1="806.5" y1="496.7" x2="806.5" y2="497.7" stroke="#8a8a8a" stroke-width="0.8"/>
<line x1="741.8" y1="496.7" x2="741.8" y2="497.7" stroke="#8a8a8a" stroke-width="0.8"/>
<line x1="1011.8" y1="495.2" x2="1011.8" y2="497.7" stroke="#8a8a8a" stroke-width="0.8"/>
<line x1="800.7" y1="495.7" x2="800.7" y2="497.7" stroke="#8a8a8a" stroke-width="0.8"/>
<line x1="757.2" y1="496.7" x2="757.2" y2="497.7" stroke="#8a8a8a" stroke-width="0.8"/>
<line x1="1021.8" y1="495.7" x2="1021.8" y2="497.7" stroke="#8a8a8a" stroke-width="0.8"/>
<line x1="807.8" y1="496.2" x2="807.8" y2="497.7" stroke="#8a8a8a" stroke-width="0.8"/>
<line x1="995.1" y1="495.2" x2="995.1" y2="497.7" stroke="#8a8a8a" stroke-width="0.8"/>
<line x1="828.0" y1="495.2" x2="828.0" y2="497.7" stroke="#8a8a8a" stroke-width="0.8"/>
<line x1="913.9" y1="496.7" x2="913.9" y2="497.7" stroke="#8a8a8a" stroke-width="0.8"/>
<line x1="906.2" y1="495.7" x2="906.2" y2="497.7" stroke="#8a8a8a" stroke-width="0.8"/>
<line x1="845.5" y1="496.2" x2="845.5" y2="497.7" stroke="#8a8a8a" stroke-width="0.8"/>
<line x1="1007.8" y1="495.2" x2="1007.8" y2="497.7" stroke="#8a8a8a" stroke-width="0.8"/>
<line x1="1021.1" y1="495.7" x2="1021.1" y2="497.7" stroke="#8a8a8a" stroke-width="0.8"/>
<line x1="883.2" y1="496.7" x2="883.2" y2="497.7" stroke="#8a8a8a" stroke-width="0.8"/>
<line x1="960.3" y1="495.7" x2="960.3" y2="497.7" stroke="#8a8a8a" stroke-width="0.8"/>
<line x1="713.5" y1="496.2" x2="713.5" y2="497.7" stroke="#8a8a8a" stroke-width="0.8"/>
<line x1="726.3" y1="495.7" x2="726.3" y2="497.7" stroke="#8a8a8a" stroke-width="0.8"/>
<line x1="856.8" y1="495.7" x2="856.8" y2="497.7" stroke="#8a8a8a" stroke-width="0.8"/>
<line x1="902.6" y1="495.7" x2="902.6" y2="497.7" stroke="#8a8a8a" stroke-width="0.8"/>
<line x1="944.1" y1="496.7" x2="944.1" y2="497.7" stroke="#8a8a8a" stroke-width="0.8"/>
<line x1="896.3" y1="496.7" x2="896.3" y2="497.7" stroke="#8a8a8a" stroke-width="0.8"/>
<line x1="1016.5" y1="495.7" x2="1016.5" y2="497.7" stroke="#8a8a8a" stroke-width="0.8"/>
<line x1="908.7" y1="495.7" x2="908.7" y2="497.7" stroke="#8a8a8a" stroke-width="0.8"/>
<line x1="897.4" y1="495.7" x2="897.4" y2="497.7" stroke="#8a8a8a" stroke-width="0.8"/>
<line x1="764.0" y1="496.2" x2="764.0" y2="497.7" stroke="#8a8a8a" stroke-width="0.8"/>
<line x1="807.5" y1="495.7" x2="807.5" y2="497.7" stroke="#8a8a8a" stroke-width="0.8"/>
<line x1="978.1" y1="495.7" x2="978.1" y2="497.7" stroke="#8a8a8a" stroke-width="0.8"/>
<line x1="803.5" y1="495.2" x2="803.5" y2="497.7" stroke="#8a8a8a" stroke-width="0.8"/>
<line x1="740.7" y1="496.7" x2="740.7" y2="497.7" stroke="#8a8a8a" stroke-width="0.8"/>
<line x1="1019.1" y1="496.2" x2="1019.1" y2="497.7" stroke="#8a8a8a" stroke-width="0.8"/>
<line x1="806.6" y1="496.2" x2="806.6" y2="497.7" stroke="#8a8a8a" stroke-width="0.8"/>
<line x1="917.0" y1="495.7" x2="917.0" y2="497.7" stroke="#8a8a8a" stroke-width="0.8"/>
<line x1="783.7" y1="496.2" x2="783.7" y2="497.7" stroke="#8a8a8a" stroke-width="0.8"/>
<line x1="924.8" y1="496.7" x2="924.8" y2="497.7" stroke="#8a8a8a" stroke-width="0.8"/>
<line x1="739.7" y1="495.7" x2="739.7" y2="497.7" stroke="#8a8a8a" stroke-width="0.8"/>
<line x1="1011.9" y1="496.2" x2="1011.9" y2="497.7" stroke="#8a8a8a" stroke-width="0.8"/>
<line x1="847.9" y1="496.2" x2="847.9" y2="497.7" stroke="#8a8a8a" stroke-width="0.8"/>
<line x1="732.7" y1="496.2" x2="732.7" y2="497.7" stroke="#8a8a8a" stroke-width="0.8"/>
<line x1="991.3" y1="494.7" x2="991.3" y2="497.7" stroke="#8a8a8a" stroke-width="0.8"/>
<line x1="793.9" y1="496.7" x2="793.9" y2="497.7" stroke="#8a8a8a" stroke-width="0.8"/>
<line x1="717.9" y1="496.2" x2="717.9" y2="497.7" stroke="#8a8a8a" stroke-width="0.8"/>
<line x1="808.3" y1="496.2" x2="808.3" y2="497.7" stroke="#8a8a8a" stroke-width="0.8"/>
<line x1="984.5" y1="495.7" x2="984.5" y2="497.7" stroke="#8a8a8a" stroke-width="0.8"/>
<line x1="966.3" y1="496.7" x2="966.3" y2="497.7" stroke="#8a8a8a" stroke-width="0.8"/>
<line x1="966.0" y1="495.7" x2="966.0" y2="497.7" stroke="#8a8a8a" stroke-width="0.8"/>
<line x1="896.4" y1="495.2" x2="896.4" y2="497.7" stroke="#8a8a8a" stroke-width="0.8"/>
<line x1="800.8" y1="495.7" x2="800.8" y2="497.7" stroke="#8a8a8a" stroke-width="0.8"/>
<line x1="856.3" y1="495.2" x2="856.3" y2="497.7" stroke="#8a8a8a" stroke-width="0.8"/>
<line x1="800.3" y1="495.2" x2="800.3" y2="497.7" stroke="#8a8a8a" stroke-width="0.8"/>
<line x1="718.4" y1="495.2" x2="718.4" y2="497.7" stroke="#8a8a8a" stroke-width="0.8"/>
<line x1="757.1" y1="496.7" x2="757.1" y2="497.7" stroke="#8a8a8a" stroke-width="0.8"/>
<line x1="860.4" y1="495.2" x2="860.4" y2="497.7" stroke="#8a8a8a" stroke-width="0.8"/>
<line x1="886.5" y1="496.2" x2="886.5" y2="497.7" stroke="#8a8a8a" stroke-width="0.8"/>
<line x1="717.4" y1="494.7" x2="717.4" y2="497.7" stroke="#8a8a8a" stroke-width="0.8"/>
<line x1="975.8" y1="495.7" x2="975.8" y2="497.7" stroke="#8a8a8a" stroke-width="0.8"/>
<line x1="881.7" y1="496.2" x2="881.7" y2="497.7" stroke="#8a8a8a" stroke-width="0.8"/>
<line x1="983.8" y1="495.7" x2="983.8" y2="497.7" stroke="#8a8a8a" stroke-width="0.8"/>
<line x1="745.6" y1="496.2" x2="745.6" y2="497.7" stroke="#8a8a8a" stroke-width="0.8"/>
<line x1="721.5" y1="496.2" x2="721.5" y2="497.7" stroke="#8a8a8a" stroke-width="0.8"/>
<line x1="995.0" y1="495.2" x2="995.0" y2="497.7" stroke="#8a8a8a" stroke-width="0.8"/>
<line x1="892.4" y1="496.7" x2="892.4" y2="497.7" stroke="#8a8a8a" stroke-width="0.8"/>
<line x1="861.5" y1="496.7" x2="861.5" y2="497.7" stroke="#8a8a8a" stroke-width="0.8"/>
<line x1="762.2" y1="495.7" x2="762.2" y2="497.7" stroke="#8a8a8a" stroke-width="0.8"/>
<line x1="783.8" y1="496.7" x2="783.8" y2="497.7" stroke="#8a8a8a" stroke-width="0.8"/>
<line x1="875.7" y1="495.2" x2="875.7" y2="497.7" stroke="#8a8a8a" stroke-width="0.8"/>
<line x1="724.1" y1="496.7" x2="724.1" y2="497.7" stroke="#8a8a8a" stroke-width="0.8"/>
<line x1="816.7" y1="495.7" x2="816.7" y2="497.7" stroke="#8a8a8a" stroke-width="0.8"/>
<line x1="1019.2" y1="494.7" x2="1019.2" y2="497.7" stroke="#8a8a8a" stroke-width="0.8"/>
<line x1="967.7" y1="496.7" x2="967.7" y2="497.7" stroke="#8a8a8a" stroke-width="0.8"/>
<line x1="820.0" y1="496.2" x2="820.0" y2="497.7" stroke="#8a8a8a" stroke-width="0.8"/>
<line x1="746.3" y1="496.7" x2="746.3" y2="497.7" stroke="#8a8a8a" stroke-width="0.8"/>
<line x1="762.1" y1="495.7" x2="762.1" y2="497.7" stroke="#8a8a8a" stroke-width="0.8"/>
<line x1="1003.1" y1="496.2" x2="1003.1" y2="497.7" stroke="#8a8a8a" stroke-width="0.8"/>
<line x1="971.6" y1="496.7" x2="971.6" y2="497.7" stroke="#8a8a8a" stroke-width="0.8"/>
<line x1="863.6" y1="495.2" x2="863.6" y2="497.7" stroke="#8a8a8a" stroke-width="0.8"/>
<line x1="723.1" y1="495.7" x2="723.1" y2="497.7" stroke="#8a8a8a" stroke-width="0.8"/>
<line x1="786.8" y1="495.2" x2="786.8" y2="497.7" stroke="#8a8a8a" stroke-width="0.8"/>
<line x1="723.4" y1="495.7" x2="723.4" y2="497.7" stroke="#8a8a8a" stroke-width="0.8"/>
<line x1="719.2" y1="491.7" x2="719.2" y2="497.7" stroke="#4f9de0" stroke-width="1.3"/>
<line x1="722.8" y1="489.2" x2="722.8" y2="497.7" stroke="#c8344c" stroke-width="1.5"/>
<line x1="733.6" y1="486.0" x2="733.6" y2="497.7" stroke="#4f9de0" stroke-width="1.3"/>
<line x1="748" y1="489.2" x2="748" y2="497.7" stroke="#4f9de0" stroke-width="1.3"/>
<line x1="772.2" y1="493.9" x2="772.2" y2="497.7" stroke="#4f9de0" stroke-width="1.1"/>
<line x1="782.4" y1="493.7" x2="782.4" y2="497.7" stroke="#4f9de0" stroke-width="1.1"/>
<line x1="794" y1="493.7" x2="794" y2="497.7" stroke="#4f9de0" stroke-width="1.1"/>
<line x1="800.8" y1="494.2" x2="800.8" y2="497.7" stroke="#4f9de0" stroke-width="1.1"/>
<line x1="815.1" y1="493.0" x2="815.1" y2="497.7" stroke="#4f9de0" stroke-width="1.1"/>
<line x1="836.7" y1="493.0" x2="836.7" y2="497.7" stroke="#c8344c" stroke-width="1.3"/>
<line x1="857.8" y1="417.7" x2="857.8" y2="497.7" stroke="#4f9de0" stroke-width="1.5"/>
<line x1="857.2" y1="484.7" x2="857.2" y2="497.7" stroke="#4f9de0" stroke-width="1.6"/>
<line x1="860.6" y1="494.29999999999995" x2="860.6" y2="497.7" stroke="#c8344c" stroke-width="1.3"/>
<line x1="868" y1="483.4" x2="868" y2="497.7" stroke="#4f9de0" stroke-width="1.3"/>
<line x1="878.3" y1="491.0" x2="878.3" y2="497.7" stroke="#8a8a8a" stroke-width="1.1"/>
<line x1="881.5" y1="493.7" x2="881.5" y2="497.7" stroke="#4f9de0" stroke-width="1.1"/>
<line x1="893.1" y1="476.7" x2="893.1" y2="497.7" stroke="#8a8a8a" stroke-width="1.3"/>
<line x1="894.4" y1="312.09999999999997" x2="894.4" y2="497.7" stroke="#4f9de0" stroke-width="1.6"/>
<line x1="905.7" y1="492.9" x2="905.7" y2="497.7" stroke="#8a8a8a" stroke-width="1.1"/>
<line x1="908.8" y1="490.6" x2="908.8" y2="497.7" stroke="#8a8a8a" stroke-width="1.1"/>
<line x1="911.8" y1="486.79999999999995" x2="911.8" y2="497.7" stroke="#8a8a8a" stroke-width="1.4"/>
<line x1="932.8" y1="486.2" x2="932.8" y2="497.7" stroke="#4f9de0" stroke-width="1.3"/>
<line x1="969.3" y1="466.7" x2="969.3" y2="497.7" stroke="#4f9de0" stroke-width="1.4"/>
<line x1="993.7" y1="476.4" x2="993.7" y2="497.7" stroke="#4f9de0" stroke-width="1.4"/>
<line x1="973.1" y1="492.9" x2="973.1" y2="497.7" stroke="#c8344c" stroke-width="1.3"/>
<line x1="607.2" y1="497.7" x2="1030.9" y2="497.7" stroke="#222" stroke-width="1.4"/>
<line x1="607.7" y1="497.7" x2="607.7" y2="502.3" stroke="#222" stroke-width="1.1"/>
<text font-family="Liberation Mono" font-size="8.8" font-weight="bold" fill="#555" text-anchor="middle" transform="translate(609.3 512.3) scale(0.82,1)">0</text>
<line x1="628.8" y1="497.7" x2="628.8" y2="500.3" stroke="#222" stroke-width="1.1"/>
<line x1="650.0" y1="497.7" x2="650.0" y2="500.3" stroke="#222" stroke-width="1.1"/>
<line x1="671.1" y1="497.7" x2="671.1" y2="500.3" stroke="#222" stroke-width="1.1"/>
<line x1="692.2" y1="497.7" x2="692.2" y2="500.3" stroke="#222" stroke-width="1.1"/>
<line x1="713.4" y1="497.7" x2="713.4" y2="502.3" stroke="#222" stroke-width="1.1"/>
<text font-family="Liberation Mono" font-size="8.8" font-weight="bold" fill="#555" text-anchor="middle" transform="translate(715.0 512.3) scale(0.82,1)">500</text>
<line x1="734.5" y1="497.7" x2="734.5" y2="500.3" stroke="#222" stroke-width="1.1"/>
<line x1="755.6" y1="497.7" x2="755.6" y2="500.3" stroke="#222" stroke-width="1.1"/>
<line x1="776.8" y1="497.7" x2="776.8" y2="500.3" stroke="#222" stroke-width="1.1"/>
<line x1="797.9" y1="497.7" x2="797.9" y2="500.3" stroke="#222" stroke-width="1.1"/>
<line x1="819.0" y1="497.7" x2="819.0" y2="502.3" stroke="#222" stroke-width="1.1"/>
<text font-family="Liberation Mono" font-size="8.8" font-weight="bold" fill="#555" text-anchor="middle" transform="translate(820.6 512.3) scale(0.82,1)">1000</text>
<line x1="840.2" y1="497.7" x2="840.2" y2="500.3" stroke="#222" stroke-width="1.1"/>
<line x1="861.3" y1="497.7" x2="861.3" y2="500.3" stroke="#222" stroke-width="1.1"/>
<line x1="882.4" y1="497.7" x2="882.4" y2="500.3" stroke="#222" stroke-width="1.1"/>
<line x1="903.6" y1="497.7" x2="903.6" y2="500.3" stroke="#222" stroke-width="1.1"/>
<line x1="924.7" y1="497.7" x2="924.7" y2="502.3" stroke="#222" stroke-width="1.1"/>
<text font-family="Liberation Mono" font-size="8.8" font-weight="bold" fill="#555" text-anchor="middle" transform="translate(926.3 512.3) scale(0.82,1)">1500</text>
<line x1="945.8" y1="497.7" x2="945.8" y2="500.3" stroke="#222" stroke-width="1.1"/>
<line x1="967.0" y1="497.7" x2="967.0" y2="500.3" stroke="#222" stroke-width="1.1"/>
<line x1="988.1" y1="497.7" x2="988.1" y2="500.3" stroke="#222" stroke-width="1.1"/>
<line x1="1009.2" y1="497.7" x2="1009.2" y2="500.3" stroke="#222" stroke-width="1.1"/>
<line x1="1030.4" y1="497.7" x2="1030.4" y2="502.3" stroke="#222" stroke-width="1.1"/>
<text font-family="Liberation Mono" font-size="8.8" font-weight="bold" fill="#555" text-anchor="middle" transform="translate(1032.0 512.3) scale(0.82,1)">2000</text>
<text x="841.3" y="529.8241" font-size="20" font-weight="bold" font-style="italic" text-anchor="middle">m/z</text>
<text font-size="9.2" font-weight="normal" fill="#1a1a1a" stroke="#1a1a1a" stroke-width="0.25" transform="translate(722.4 488.7) rotate(-90) scale(0.99,1.06)">&lt;b5+&gt;y9++</text>
<text font-size="9.2" font-weight="normal" fill="#1a1a1a" stroke="#1a1a1a" stroke-width="0.25" transform="translate(726.2 486.0) rotate(-90) scale(0.99,1.06)">b5+</text>
<text font-size="9.2" font-weight="normal" fill="#1a1a1a" stroke="#1a1a1a" stroke-width="0.25" transform="translate(737.0 483.6) rotate(-90) scale(0.99,1.06)">y4+</text>
<text font-size="9.2" font-weight="normal" fill="#1a1a1a" stroke="#1a1a1a" stroke-width="0.25" transform="translate(751.4 486.7) rotate(-90) scale(0.99,1.06)">y5+</text>
<text font-size="9.2" font-weight="normal" fill="#1a1a1a" stroke="#1a1a1a" stroke-width="0.25" transform="translate(775.6 491.1) rotate(-90) scale(0.99,1.06)">y6+</text>
<text font-size="9.2" font-weight="normal" fill="#1a1a1a" stroke="#1a1a1a" stroke-width="0.25" transform="translate(785.8 491.1) rotate(-90) scale(0.99,1.06)">y14++</text>
<text font-size="9.2" font-weight="normal" fill="#1a1a1a" stroke="#1a1a1a" stroke-width="0.25" transform="translate(797.4 491.1) rotate(-90) scale(0.99,1.06)">&lt;b9+&gt;y7+</text>
<text font-size="9.2" font-weight="normal" fill="#1a1a1a" stroke="#1a1a1a" stroke-width="0.25" transform="translate(804.2 490.7) rotate(-90) scale(0.99,1.06)">y16++</text>
<text font-size="9.2" font-weight="normal" fill="#1a1a1a" stroke="#1a1a1a" stroke-width="0.25" transform="translate(818.5 490.5) rotate(-90) scale(0.99,1.06)">y8+</text>
<text font-size="9.2" font-weight="normal" fill="#1a1a1a" stroke="#1a1a1a" stroke-width="0.25" transform="translate(840.1 490.1) rotate(-90) scale(0.99,1.06)">b10+</text>
<text font-size="9.2" font-weight="normal" fill="#1a1a1a" stroke="#1a1a1a" stroke-width="0.25" transform="translate(861.2 414.9) rotate(-90) scale(0.99,1.06)">y21++</text>
<text font-size="9.2" font-weight="normal" fill="#1a1a1a" stroke="#1a1a1a" stroke-width="0.25" transform="translate(871.4 480.2) rotate(-90) scale(0.99,1.06)">y22++</text>
<text font-size="9.2" font-weight="normal" fill="#1a1a1a" stroke="#1a1a1a" stroke-width="0.25" transform="translate(884.9 489.7) rotate(-90) scale(0.99,1.06)">y11+</text>
<text font-size="9.2" font-weight="normal" fill="#1a1a1a" stroke="#1a1a1a" stroke-width="0.25" transform="translate(897.0 476.4) rotate(-90) scale(0.99,1.06)">&lt;b13+&gt;</text>
<text font-size="9.2" font-weight="normal" fill="#1a1a1a" stroke="#1a1a1a" stroke-width="0.25" transform="translate(897.8 309.3) rotate(-90) scale(0.99,1.06)">y24++</text>
<text font-size="9.2" font-weight="normal" fill="#1a1a1a" stroke="#1a1a1a" stroke-width="0.25" transform="translate(936.2 482.6) rotate(-90) scale(0.99,1.06)">y13+</text>
<text font-size="9.2" font-weight="normal" fill="#1a1a1a" stroke="#1a1a1a" stroke-width="0.25" transform="translate(972.7 475.7) rotate(-90) scale(0.99,1.06)">&lt;b16+&gt;</text>
<text font-size="9.2" font-weight="normal" fill="#1a1a1a" stroke="#1a1a1a" stroke-width="0.25" transform="translate(973.0 469.7) rotate(-90) scale(0.99,1.06)">y15+</text>
<text font-size="9.2" font-weight="normal" fill="#1a1a1a" stroke="#1a1a1a" stroke-width="0.25" transform="translate(997.1 473.2) rotate(-90) scale(0.99,1.06)">y16+</text>
<text font-size="9.2" font-weight="normal" fill="#1a1a1a" stroke="#1a1a1a" stroke-width="0.25" transform="translate(861.4 486.2) rotate(-90) scale(0.99,1.06)">y10+</text>
<text font-size="9.2" font-weight="normal" fill="#1a1a1a" stroke="#1a1a1a" stroke-width="0.25" transform="translate(864.2 491.5) rotate(-90) scale(0.99,1.06)">b11+</text>
<text font-size="9.2" font-weight="normal" fill="#1a1a1a" stroke="#1a1a1a" stroke-width="0.25" transform="translate(976.5 490.8) rotate(-90) scale(0.99,1.06)">b16+</text>
</svg></body></html>
